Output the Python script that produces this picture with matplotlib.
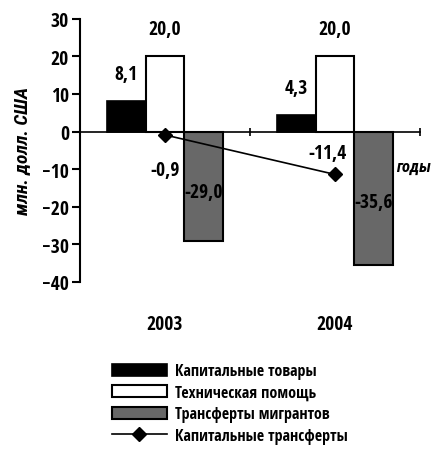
import matplotlib
matplotlib.use('Agg')
import matplotlib.pyplot as plt
from matplotlib import font_manager as fm
from matplotlib.textpath import TextPath
from matplotlib.ft2font import FT2Font
import numpy as np

# данные
years = ['2003', '2004']
kap_tovary = [8.1, 4.3]
tekh_pomosch = [20.0, 20.0]
transf_migr = [-29.0, -35.6]
kap_transf = [-0.9, -11.4]

# ищем самый узкий жирный шрифт с кириллицей среди обычных семейств
known = ('DejaVu', 'Liberation', 'Noto Sans', 'Roboto', 'Open Sans', 'Lato', 'Inter')


def narrowest(style):
    best, path = None, None
    for f in fm.fontManager.ttflist:
        nm = f.name + ' ' + str(f.fname)
        if not f.name.startswith(known) or 'Mono' in nm or 'CJK' in nm:
            continue
        if f.weight not in ('bold', 700):
            continue
        if (style == 'normal') != (f.style == 'normal'):
            continue
        try:
            if ord('К') not in FT2Font(f.fname).get_charmap():
                continue
            wd = TextPath((0, 0), 'Капитальные 2003', size=10,
                          prop=fm.FontProperties(fname=f.fname)).get_extents().width
        except Exception:
            continue
        if best is None or wd < best:
            best, path = wd, f
    return path


fn = narrowest('normal')
fi = narrowest('italic')
if fn is not None:
    plt.rcParams['font.family'] = [fn.name, 'DejaVu Sans']
    plt.rcParams['font.stretch'] = fn.stretch
plt.rcParams['font.weight'] = 'bold'
ital = fm.FontProperties(fname=fi.fname) if fi is not None else fm.FontProperties(style='italic', weight='bold')

fig = plt.figure(figsize=(4.35, 4.52), dpi=100)
ax = fig.add_axes([0.184, 0.374, 0.7815, 0.5822])

x = np.arange(len(years))
w = 0.228

b1 = ax.bar(x - w, kap_tovary, w, color='black', edgecolor='black', linewidth=1.2,
            label='Капитальные товары')
b2 = ax.bar(x, tekh_pomosch, w, color='white', edgecolor='black', linewidth=1.5,
            label='Техническая помощь')
b3 = ax.bar(x + w, transf_migr, w, color='#686868', edgecolor='black', linewidth=1.5,
            label='Трансферты мигрантов')
ln, = ax.plot(x, kap_transf, color='black', lw=1.2, marker='D', markersize=7,
              label='Капитальные трансферты')

fs = 14
fmt = lambda v: f'{v:.1f}'.replace('.', ',')
# подписи значений
gray_lab_y = [-16.0, -18.6]
for i in range(len(years)):
    ax.text(x[i] - w, kap_tovary[i] + 7.2, fmt(kap_tovary[i]), ha='center', va='center', fontsize=fs)
    ax.text(x[i], tekh_pomosch[i] + 7.2, fmt(tekh_pomosch[i]), ha='center', va='center', fontsize=fs)
    ax.text(x[i] + w, gray_lab_y[i], fmt(transf_migr[i]), ha='center', va='center', fontsize=fs)
ax.text(x[0], -10.1, fmt(kap_transf[0]), ha='center', va='center', fontsize=fs)
ax.text(x[1] - 0.047, -5.6, fmt(kap_transf[1]), ha='center', va='center', fontsize=fs)

ax.set_xlim(-0.5, 1.5)
ax.set_ylim(-40, 30)
ax.set_yticks(np.arange(-40, 31, 10))
ax.tick_params(axis='y', labelsize=fs, length=6, width=1.5, direction='out', pad=2)

ax.spines['top'].set_visible(False)
ax.spines['right'].set_visible(False)
ax.spines['bottom'].set_position(('data', 0))
ax.spines['left'].set_linewidth(1.5)
ax.spines['bottom'].set_linewidth(1.2)
ax.set_xticks([0.5, 1.5])
ax.set_xticklabels([])
ax.tick_params(axis='x', length=6, width=1.2, direction='inout')

for i, yr in enumerate(years):
    ax.text(x[i], -51.3, yr, ha='center', va='center', fontsize=fs, clip_on=False)

ax.text(1.565, -9.3, 'годы', ha='right', va='center', fontproperties=ital, fontsize=12,
        clip_on=False)
ax.set_ylabel('млн. долл. США', fontproperties=ital, fontsize=fs, labelpad=8)

fig.legend(handles=[b1, b2, b3, ln], loc='upper left', bbox_to_anchor=(0.258, 0.194),
           frameon=False, fontsize=11.5, handlelength=3.4, handleheight=0.75,
           handletextpad=0.5, labelspacing=0.35, borderpad=0, borderaxespad=0)

fig.savefig('out.png', dpi=100)
